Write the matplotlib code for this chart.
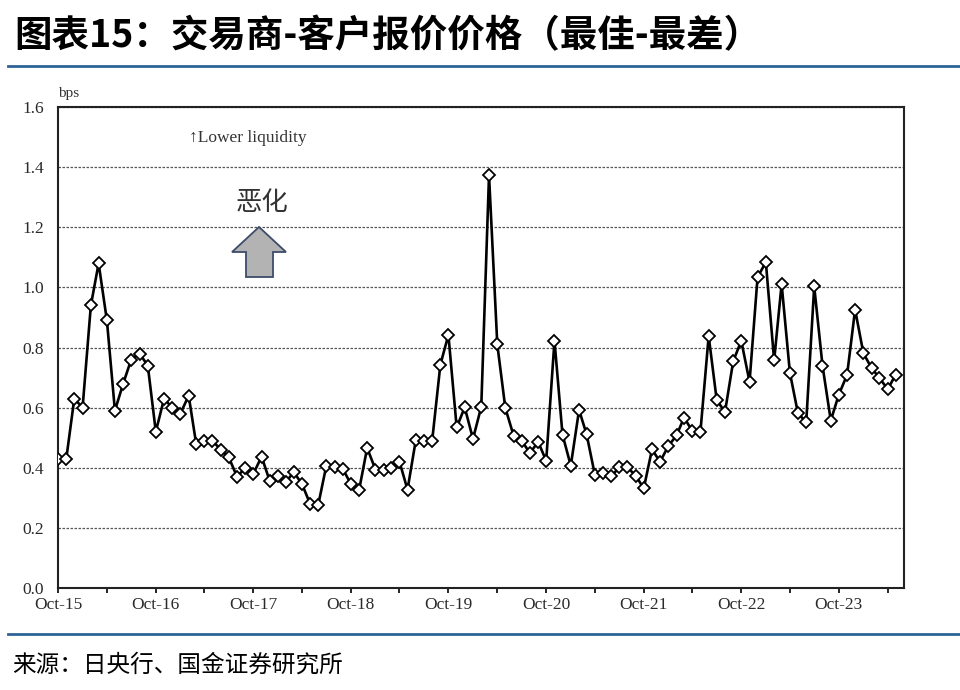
import matplotlib
matplotlib.use("Agg")
import matplotlib.pyplot as plt
import matplotlib.dates as mdates
from matplotlib.patches import Polygon
from matplotlib.lines import Line2D
import numpy as np
import pandas as pd

plt.rcParams['font.family'] = ['Noto Sans CJK SC', 'DejaVu Sans']

# 月度数据：2015年10月 - 2024年5月
months = pd.date_range('2015-10-01', periods=104, freq='MS')
spread = [
    0.43, 0.43, 0.63, 0.60, 0.94, 1.08, 0.89, 0.59, 0.68, 0.76, 0.78, 0.74,
    0.52, 0.63, 0.60, 0.58, 0.64, 0.48, 0.49, 0.49, 0.46, 0.435, 0.37, 0.40,
    0.38, 0.437, 0.357, 0.372, 0.353, 0.386, 0.346, 0.281, 0.277, 0.406, 0.401, 0.396,
    0.346, 0.327, 0.466, 0.394, 0.394, 0.399, 0.42, 0.327, 0.492, 0.488, 0.488, 0.743,
    0.842, 0.534, 0.601, 0.496, 0.603, 1.373, 0.81, 0.599, 0.507, 0.49, 0.449, 0.486,
    0.423, 0.823, 0.51, 0.407, 0.592, 0.512, 0.377, 0.384, 0.371, 0.401, 0.401, 0.374,
    0.331, 0.461, 0.42, 0.472, 0.508, 0.567, 0.522, 0.518, 0.838, 0.626, 0.585, 0.755,
    0.822, 0.686, 1.034, 1.084, 0.757, 1.011, 0.716, 0.582, 0.551, 1.003, 0.74, 0.557,
    0.643, 0.709, 0.926, 0.781, 0.731, 0.699, 0.661, 0.71,
]
y_ticks = np.arange(0, 1.61, 0.2)

title = '图表15：交易商-客户报价价格（最佳-最差）'
source = '来源：日央行、国金证券研究所'

W, H = 960, 690
fig = plt.figure(figsize=(W / 100, H / 100), dpi=100)
ax = fig.add_axes([58 / W, 1 - 588 / H, (904 - 58) / W, (588 - 107) / H])

ax.plot(months, spread, color='black', lw=1.9, marker='D', ms=6,
        mfc='white', mec='black', mew=1.3, zorder=3)

ax.set_ylim(0, 1.6)
ax.set_xlim(months[0], pd.Timestamp('2024-06-01'))
ax.set_yticks(y_ticks)
ax.set_yticklabels([f'{v:.1f}' for v in y_ticks])
ax.xaxis.set_major_locator(mdates.MonthLocator(bymonth=10))
ax.xaxis.set_minor_locator(mdates.MonthLocator(bymonth=4))
ax.xaxis.set_major_formatter(mdates.DateFormatter('%b-%y'))

ax.tick_params(axis='y', length=0, pad=10, labelsize=12.5,
               labelfontfamily='Liberation Serif', labelcolor='#2a2a2a')
ax.tick_params(axis='x', which='both', direction='out', length=3.5, width=1.2,
               pad=3, labelsize=12.5, labelfontfamily='Liberation Serif',
               labelcolor='#2a2a2a')

ax.yaxis.grid(True, linestyle=(0, (2, 1.2)), color='#555555', lw=0.9)
for s in ax.spines.values():
    s.set_linewidth(1.5)
    s.set_color('#222222')

# 标注
ax.text(0.0, 1.015, 'bps', transform=ax.transAxes, fontsize=11,
        family='Liberation Serif', color='#333333', va='bottom')
fig.text(189 / W, 1 - 138 / H, '↑Lower liquidity', fontsize=12.5,
         family=['Liberation Serif', 'DejaVu Sans'], color='#333333', va='center')
fig.text(262 / W, 1 - 203 / H, '恶化', fontsize=19, color='#333333',
         ha='center', va='center')

arrow_px = [(259, 227), (232, 252), (246, 252), (246, 277),
            (273, 277), (273, 252), (286, 252)]
arrow = Polygon([(x / W, 1 - y / H) for x, y in arrow_px], closed=True,
                transform=fig.transFigure, facecolor='#b3b3b3',
                edgecolor='#3d4c6b', lw=1.3)
fig.add_artist(arrow)

# 标题与来源
fig.text(14 / W, 1 - 36 / H, title, fontsize=27, fontweight='bold',
         va='center', color='black')
fig.add_artist(Line2D([8 / W, 1], [1 - 66 / H] * 2, color='#2E6396', lw=2))
fig.add_artist(Line2D([8 / W, 1], [1 - 634 / H] * 2, color='#2E6396', lw=2))
fig.text(12 / W, 1 - 665 / H, source, fontsize=17, va='center', color='black')

fig.savefig('out.png', dpi=100)
